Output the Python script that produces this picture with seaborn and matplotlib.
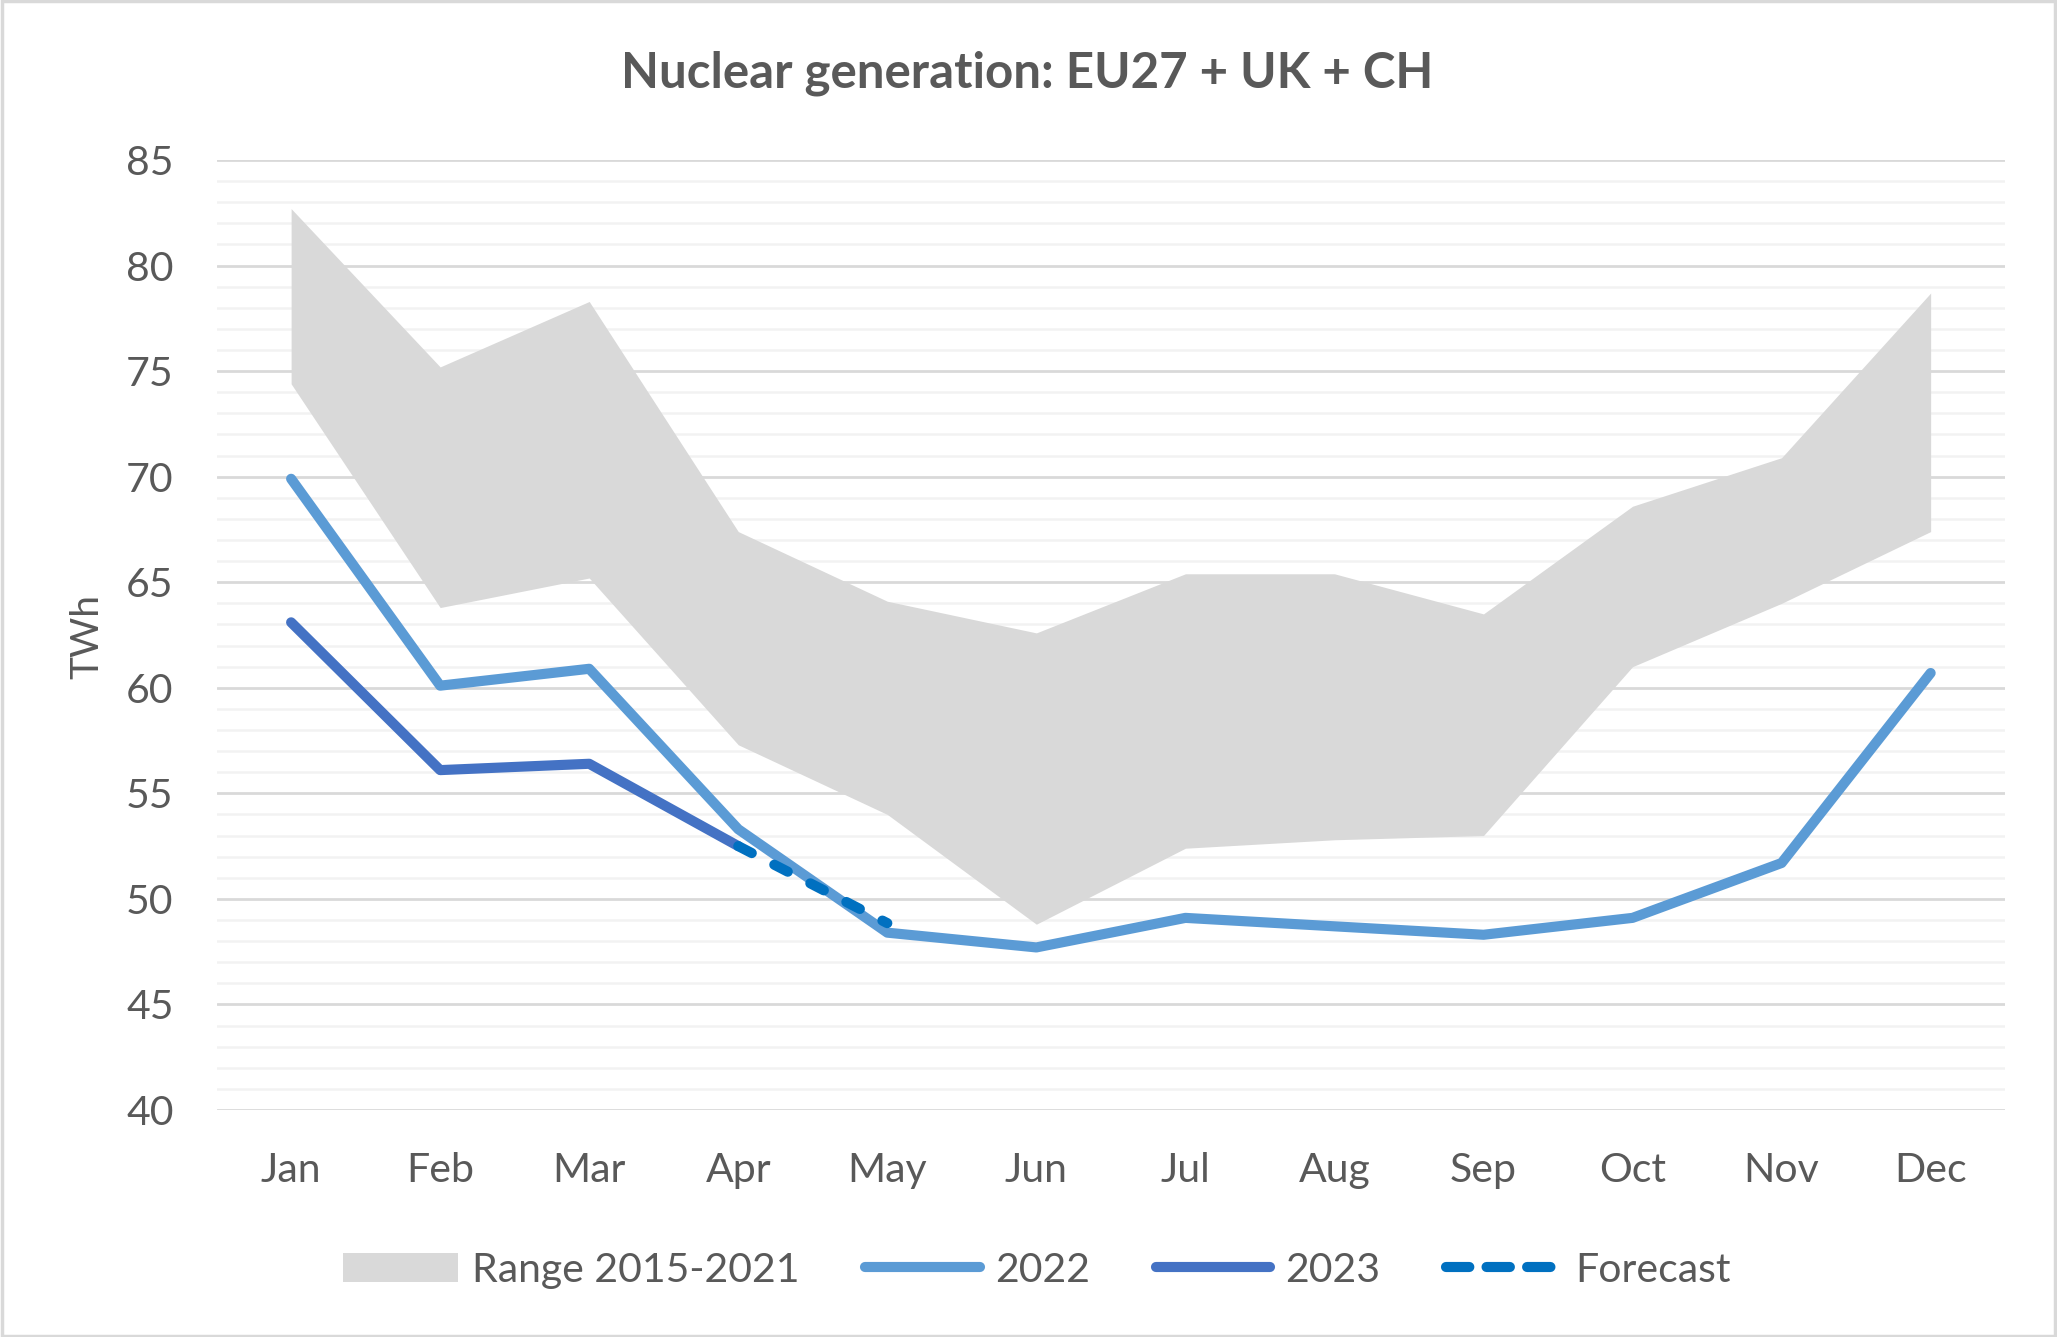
import matplotlib
matplotlib.use('Agg')
import matplotlib.pyplot as plt
from matplotlib.lines import Line2D
from matplotlib.patches import Patch, Rectangle
import numpy as np
import pandas as pd
import seaborn as sns

# Data (TWh)
months = ['Jan', 'Feb', 'Mar', 'Apr', 'May', 'Jun', 'Jul', 'Aug', 'Sep', 'Oct', 'Nov', 'Dec']
range_low = [74.4, 63.8, 65.2, 57.3, 54.0, 48.8, 52.4, 52.8, 53.0, 61.0, 64.0, 67.4]
range_high = [82.7, 75.2, 78.3, 67.4, 64.1, 62.6, 65.4, 65.4, 63.5, 68.6, 70.9, 78.7]
gen_2022 = [69.9, 60.1, 60.9, 53.3, 48.4, 47.7, 49.1, 48.7, 48.3, 49.1, 51.7, 60.7]
gen_2023 = [63.1, 56.1, 56.4, 52.5, np.nan, np.nan, np.nan, np.nan, np.nan, np.nan, np.nan, np.nan]
forecast = [np.nan, np.nan, np.nan, 52.5, 48.85, np.nan, np.nan, np.nan, np.nan, np.nan, np.nan, np.nan]

df = pd.DataFrame({'m': np.arange(len(months)), 'low': range_low, 'high': range_high,
                   'y2022': gen_2022, 'y2023': gen_2023, 'fc': forecast})

sns.set_style('white')
plt.rcParams['font.family'] = ['Lato', 'DejaVu Sans']
text_col = '#595959'
c_range = '#D9D9D9'
c_2022 = '#5B9BD5'
c_2023 = '#4472C4'
c_fc = '#0070C0'
lw = 7.3

fig = plt.figure(figsize=(20.57, 13.37), dpi=100)
ax = fig.add_axes([0.1053, 0.1698, 0.8695, 0.7105])

ax.fill_between(df['m'], df['low'], df['high'], color=c_range, linewidth=0, zorder=2)
sns.lineplot(data=df, x='m', y='y2022', ax=ax, color=c_2022, linewidth=lw,
             solid_capstyle='round', solid_joinstyle='round', zorder=3)
sns.lineplot(data=df.dropna(subset=['y2023']), x='m', y='y2023', ax=ax, color=c_2023, linewidth=lw,
             solid_capstyle='round', solid_joinstyle='round', zorder=4)
sns.lineplot(data=df.dropna(subset=['fc']), x='m', y='fc', ax=ax, color=c_fc, linewidth=lw,
             linestyle=(0, (1.5, 2.5)), dash_capstyle='round', zorder=5)

ax.set_xlim(-0.5, 11.5)
ax.set_ylim(40, 85)
ax.set_xticks(range(len(months)))
ax.set_xticklabels(months)
ax.set_yticks(range(40, 86, 5))
ax.set_yticks(range(40, 86, 1), minor=True)
ax.grid(axis='y', which='major', color='#D9D9D9', linewidth=2.0, zorder=0)
ax.grid(axis='y', which='minor', color='#F2F2F2', linewidth=1.8, zorder=0)
ax.grid(axis='x', visible=False)
ax.set_axisbelow(True)
for s in ax.spines.values():
    s.set_visible(False)
ax.tick_params(axis='both', which='both', length=0, labelsize=29.5, labelcolor=text_col)
ax.tick_params(axis='x', pad=30)
ax.tick_params(axis='y', pad=31)
ax.set_xlabel('')
ax.set_ylabel('')

fig.text(0.4995, 0.9455, 'Nuclear generation: EU27 + UK + CH', ha='center', va='center',
         fontsize=35.5, fontweight='bold', color=text_col)
fig.text(0.0423, 0.5243, 'TWh', ha='center', va='center', rotation=90, fontsize=28, color=text_col)

handles = [Patch(facecolor=c_range, edgecolor='none'),
           Line2D([], [], color=c_2022, linewidth=lw, solid_capstyle='round'),
           Line2D([], [], color=c_2023, linewidth=lw, solid_capstyle='round'),
           Line2D([], [], color=c_fc, linewidth=lw, linestyle=(0, (2.3, 1.7)), dash_capstyle='round')]
labels = ['Range 2015-2021', '2022', '2023', 'Forecast']
leg = fig.legend(handles, labels, loc='center', bbox_to_anchor=(0.504, 0.050), ncol=4,
                 frameon=False, fontsize=29.5, handlelength=2.8, handletextpad=0.36,
                 columnspacing=1.6)
for t in leg.get_texts():
    t.set_color(text_col)

fig.patches.append(Rectangle((0.001, 0.001), 0.998, 0.998, transform=fig.transFigure,
                             fill=False, edgecolor='#D9D9D9', linewidth=2.5))

fig.savefig('out.png', dpi=100)
